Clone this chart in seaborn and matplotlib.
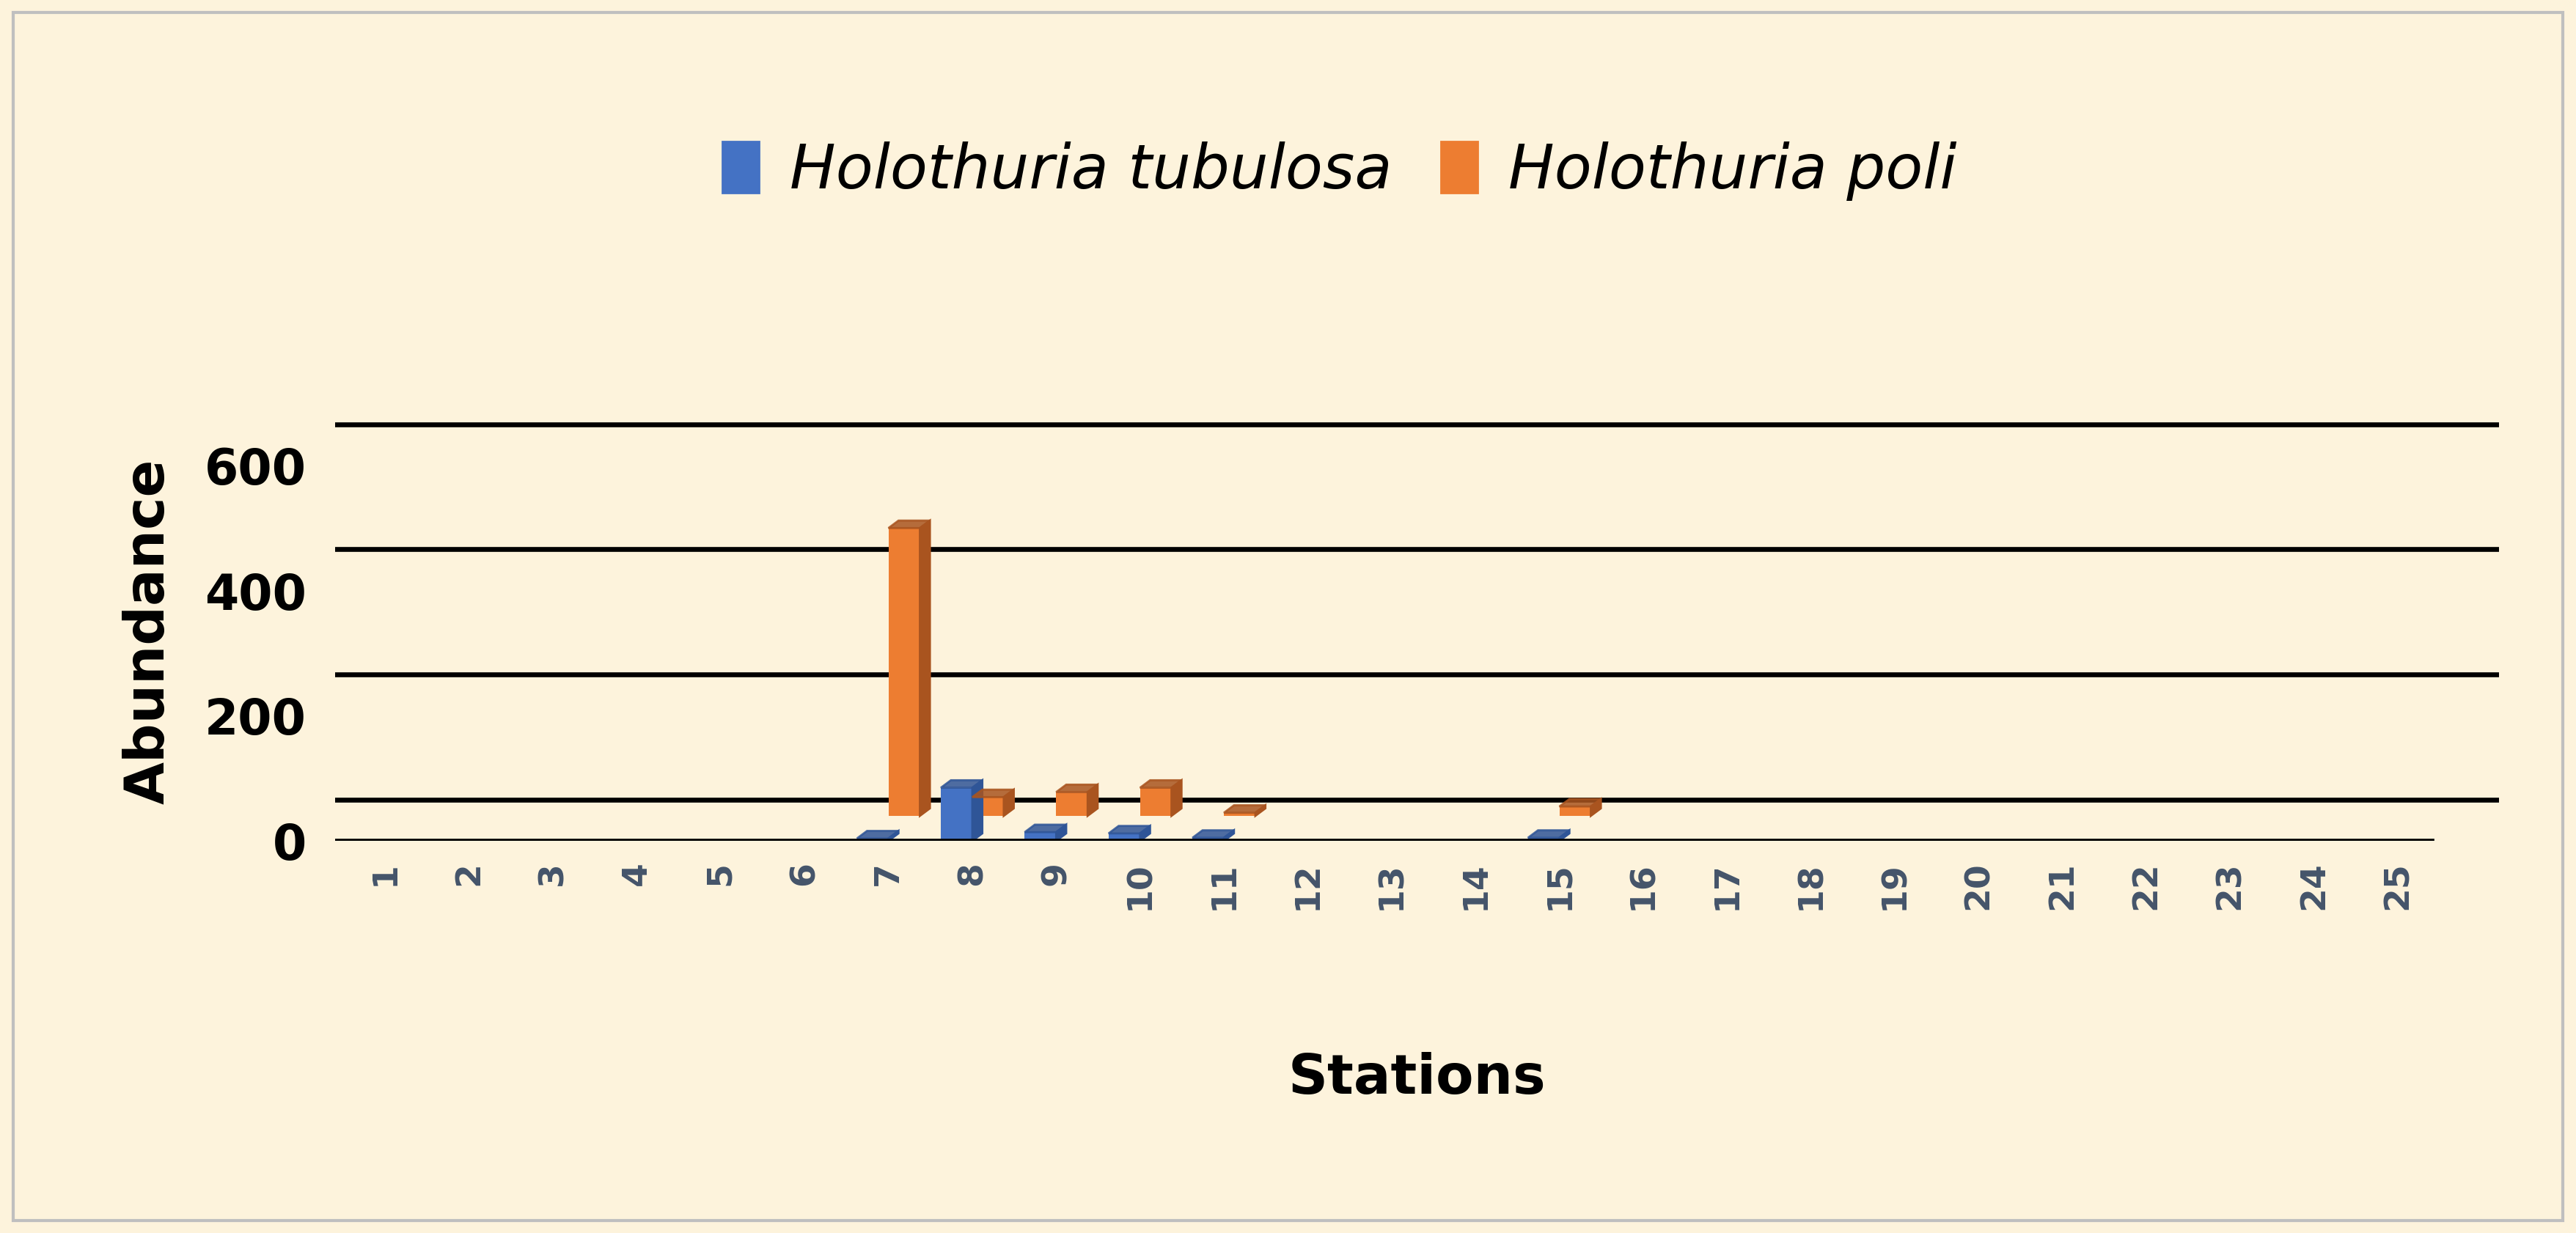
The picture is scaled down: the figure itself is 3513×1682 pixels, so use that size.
import numpy as np
import pandas as pd
import matplotlib.pyplot as plt
import seaborn as sns
from matplotlib.patches import Polygon

stations = [str(i) for i in range(1, 26)]
tubulosa = [0, 0, 0, 0, 0, 0, 4, 85, 14, 12, 5, 0, 0, 0, 5,
            0, 0, 0, 0, 0, 0, 0, 0, 0, 0]
poli = [0, 0, 0, 0, 0, 0, 460, 30, 38, 45, 5, 0, 0, 0, 15,
        0, 0, 0, 0, 0, 0, 0, 0, 0, 0]
species = ["Holothuria tubulosa", "Holothuria poli"]
colors = ["#4472C4", "#ED7D31"]
dark = ["#2F5597", "#A9541F"]
yticks = [0, 200, 400, 600]

df = pd.DataFrame({
    "Station": stations * 2,
    "Abundance": tubulosa + poli,
    "Species": [species[0]] * 25 + [species[1]] * 25,
})

bg = "#FDF3DC"
fig = plt.figure(figsize=(17.565, 8.41), dpi=200, facecolor=bg)
ax = fig.add_axes([0.13, 0.318, 0.84, 0.34])
ax.set_facecolor(bg)

sns.barplot(data=df, x="Station", y="Abundance", hue="Species",
            palette=colors, ax=ax, width=0.75, legend=False,
            saturation=1, edgecolor="none", zorder=3)

# fake 3D: back-row series sits a little higher, plus top/side faces
dx, dy = 0.12, 12
row_lift = 40
n = len(stations)
for i, p in enumerate(ax.patches):
    h = p.get_height()
    if h <= 0:
        continue
    s = 0 if i < n else 1
    if s == 1:
        p.set_y(row_lift)
    y0 = p.get_y()
    y1 = y0 + h
    x0, w = p.get_x(), p.get_width()
    top = Polygon([(x0, y1), (x0 + dx, y1 + dy), (x0 + w + dx, y1 + dy), (x0 + w, y1)],
                  closed=True, color=dark[s], alpha=0.85, zorder=4)
    side = Polygon([(x0 + w, y0), (x0 + w + dx, y0 + dy), (x0 + w + dx, y1 + dy), (x0 + w, y1)],
                   closed=True, color=dark[s], zorder=4)
    ax.add_patch(top)
    ax.add_patch(side)

# back-wall gridlines sit above the tick positions, like the 3D original
for y in yticks:
    ax.axhline(y + 66, color="black", lw=2.4, zorder=1)
ax.plot([-0.6, n - 0.6], [0, 0], color="black", lw=2.4, zorder=5)

ax.set_ylim(0, 670)
ax.set_xlim(-0.6, n + 0.2)
ax.set_yticks(yticks)
ax.set_yticklabels([str(t) for t in yticks], fontsize=24, fontweight="bold")
ax.tick_params(axis="y", length=0, pad=14)
ax.tick_params(axis="x", length=0, pad=10, labelrotation=90,
               labelsize=17, labelcolor="#44546A")
for t in ax.get_xticklabels():
    t.set_fontweight("bold")
for sp in ax.spines.values():
    sp.set_visible(False)

ax.set_ylabel("Abundance", fontsize=27, fontweight="bold", labelpad=14)
ax.set_xlabel("Stations", fontsize=27, fontweight="bold", labelpad=70)

handles = [plt.Rectangle((0, 0), 1, 1, color=c) for c in colors]
fig.legend(handles, species, loc="upper center", bbox_to_anchor=(0.52, 0.93),
           ncol=2, frameon=False, prop={"style": "italic", "size": 30},
           handlelength=0.6, handleheight=0.9, columnspacing=0.8, handletextpad=0.5)

fig.patches.append(plt.Rectangle((0.005, 0.01), 0.99, 0.98, transform=fig.transFigure,
                                 fill=False, edgecolor="#BFBFBF", lw=1.5))
fig.savefig("out.png", dpi=200, facecolor=bg)
